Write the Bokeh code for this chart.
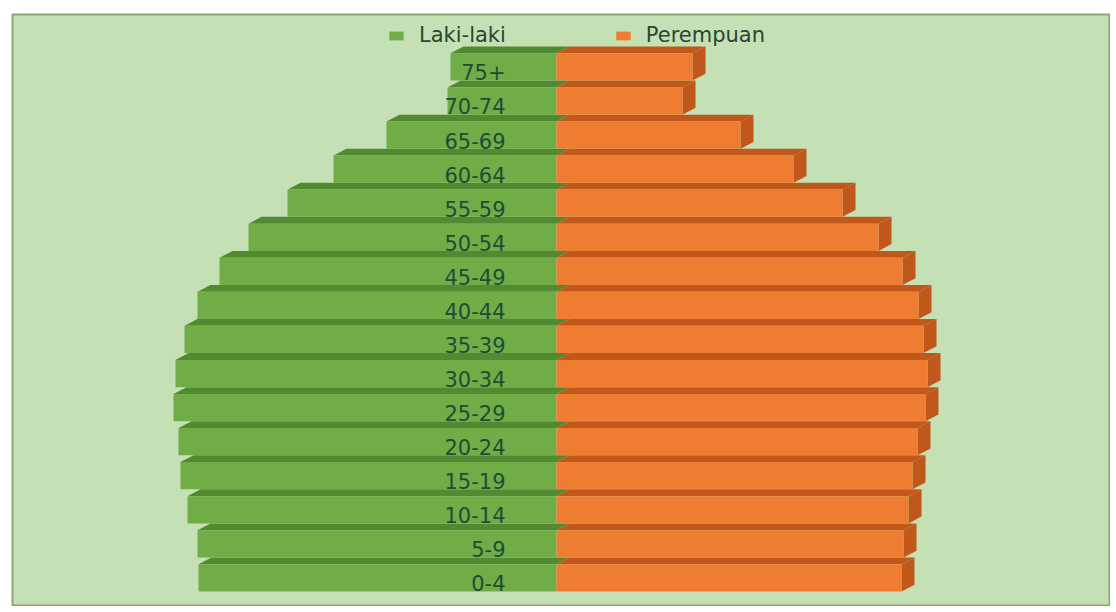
from bokeh.plotting import figure
from bokeh.models import ColumnDataSource, Range1d, Legend, LegendItem
from bokeh.core.properties import value
from bokeh.embed import file_html
from bokeh.resources import INLINE

# ---- data (bottom to top) ----
age_groups = ["0-4", "5-9", "10-14", "15-19", "20-24", "25-29", "30-34", "35-39",
              "40-44", "45-49", "50-54", "55-59", "60-64", "65-69", "70-74", "75+"]
laki_laki = [358, 359, 369, 376, 378, 383, 381, 372, 359, 337, 308, 269, 223, 170, 109, 106]
perempuan = [345, 347, 352, 356, 361, 369, 371, 367, 362, 346, 322, 286, 237, 184, 126, 136]

# ---- styling / 3D geometry ----
GREEN = "#70ad47"
GREEN_DARK = "#518a31"
ORANGE = "#ee7d31"
ORANGE_DARK = "#c0581b"
BG = "#c5e0b4"
DX = 13      # depth offset along x (data units)
DY = 0.2     # depth offset along y (category units)
H = 0.4      # half bar height

ypos = list(range(len(age_groups)))

front_src = ColumnDataSource(dict(
    y=ypos, left=[-v for v in laki_laki], right=perempuan,
    zero=[0] * len(ypos), label_y=[y - 0.16 for y in ypos], label=age_groups,
    label_x=[-51] * len(ypos),
))

green_top = ColumnDataSource(dict(
    xs=[[-l, 0, DX, -l + DX] for l in laki_laki],
    ys=[[y + H, y + H, y + H + DY, y + H + DY] for y in ypos],
))
orange_top = ColumnDataSource(dict(
    xs=[[0, r, r + DX, DX] for r in perempuan],
    ys=[[y + H, y + H, y + H + DY, y + H + DY] for y in ypos],
))
orange_side = ColumnDataSource(dict(
    xs=[[r, r, r + DX, r + DX] for r in perempuan],
    ys=[[y - H, y + H, y + H + DY, y - H + DY] for y in ypos],
))

p = figure(width=1110, height=606, output_backend="svg", toolbar_location=None,
           x_range=Range1d(-544, 554), y_range=Range1d(-0.84, 16.54),
           min_border_left=12, min_border_top=14, min_border_right=0, min_border_bottom=0)
p.background_fill_color = BG
p.border_fill_color = "white"
p.outline_line_color = "#86a872"
p.outline_line_width = 2
p.axis.visible = False
p.grid.visible = False

p.patches("xs", "ys", source=green_top, fill_color=GREEN_DARK, line_color=None)
p.patches("xs", "ys", source=orange_top, fill_color=ORANGE_DARK, line_color=None)
p.patches("xs", "ys", source=orange_side, fill_color=ORANGE_DARK, line_color=None)
r_l = p.hbar(y="y", left="left", right="zero", height=2 * H, source=front_src,
             fill_color=GREEN, line_color=None)
r_p = p.hbar(y="y", left="zero", right="right", height=2 * H, source=front_src,
             fill_color=ORANGE, line_color=None)

p.text(x="label_x", y="label_y", text="label", source=front_src,
       text_align="right", text_baseline="middle",
       text_font=value("DejaVu Sans"), text_font_size="21px", text_color="#1f4c36")

legend = Legend(items=[LegendItem(label="Laki-laki", renderers=[r_l]),
                       LegendItem(label="Perempuan", renderers=[r_p])],
                orientation="horizontal", location=(375, 559),
                padding=0, margin=0, spacing=108,
                glyph_width=18, glyph_height=11, label_standoff=14,
                label_text_font="DejaVu Sans", label_text_font_size="21px",
                label_text_color="#2b4535",
                background_fill_alpha=0, border_line_color=None)
p.add_layout(legend)

open("out.html", "w").write(file_html(p, INLINE))
